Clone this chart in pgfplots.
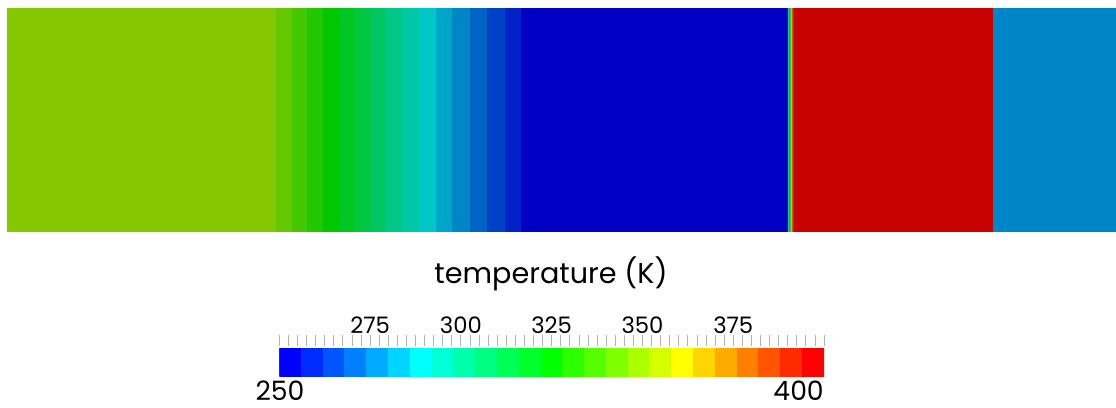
\documentclass[border=0pt]{standalone}
\usepackage{pgfplots}
\pgfplotsset{compat=1.18}
\usepackage{fontspec}
\setmainfont{Poppins}

% 25-band rainbow (bright) used by the colour bar
\pgfplotsset{
  colormap={jetbright}{
    rgb255=(0,0,255) rgb255=(0,43,255) rgb255=(0,85,255) rgb255=(0,128,255)
    rgb255=(0,170,255) rgb255=(0,213,255) rgb255=(0,255,255) rgb255=(0,255,213)
    rgb255=(0,255,170) rgb255=(0,255,128) rgb255=(0,255,85) rgb255=(0,255,43)
    rgb255=(0,255,0) rgb255=(43,255,0) rgb255=(85,255,0) rgb255=(128,255,0)
    rgb255=(170,255,0) rgb255=(213,255,0) rgb255=(255,255,0) rgb255=(255,213,0)
    rgb255=(255,170,0) rgb255=(255,128,0) rgb255=(255,85,0) rgb255=(255,43,0)
    rgb255=(255,0,0)},
  % same map as rendered (shaded) in the field
  colormap={jetdark}{
    rgb255=(0,0,199) rgb255=(0,34,199) rgb255=(0,66,199) rgb255=(0,100,199)
    rgb255=(0,133,199) rgb255=(0,166,199) rgb255=(0,199,199) rgb255=(0,199,166)
    rgb255=(0,199,133) rgb255=(0,199,100) rgb255=(0,199,66) rgb255=(0,199,34)
    rgb255=(0,199,0) rgb255=(34,199,0) rgb255=(66,199,0) rgb255=(100,199,0)
    rgb255=(133,199,0) rgb255=(166,199,0) rgb255=(199,199,0) rgb255=(199,166,0)
    rgb255=(199,133,0) rgb255=(199,100,0) rgb255=(199,66,0) rgb255=(199,34,0)
    rgb255=(199,0,0)},
}

\pgfplotstableread{
x      y  T
0      0  349
269    0  343
285.3  0  337
300.7  0  331
316.3  0  325
332.3  0  319
348    0  313
364    0  307
379.7  0  301
396.3  0  295
412.3  0  289
429    0  283
445.7  0  277
463    0  271
480.3  0  265
498    0  259
514.7  0  253
781.5  0  289
782.5  0  313
783.5  0  337
784.5  0  361
785.5  0  379
786.5  0  391
787.5  0  397
986    0  277
1109   0  277
0      1  349
269    1  343
285.3  1  337
300.7  1  331
316.3  1  325
332.3  1  319
348    1  313
364    1  307
379.7  1  301
396.3  1  295
412.3  1  289
429    1  283
445.7  1  277
463    1  271
480.3  1  265
498    1  259
514.7  1  253
781.5  1  289
782.5  1  313
783.5  1  337
784.5  1  361
785.5  1  379
786.5  1  391
787.5  1  397
986    1  277
1109   1  277
}\fieldtable

\pgfplotstableread{
x    y  T
250  0  253
256  0  259
262  0  265
268  0  271
274  0  277
280  0  283
286  0  289
292  0  295
298  0  301
304  0  307
310  0  313
316  0  319
322  0  325
328  0  331
334  0  337
340  0  343
346  0  349
352  0  355
358  0  361
364  0  367
370  0  373
376  0  379
382  0  385
388  0  391
394  0  397
400  0  397
250  1  253
256  1  259
262  1  265
268  1  271
274  1  277
280  1  283
286  1  289
292  1  295
298  1  301
304  1  307
310  1  313
316  1  319
322  1  325
328  1  331
334  1  337
340  1  343
346  1  349
352  1  355
358  1  361
364  1  367
370  1  373
376  1  379
382  1  385
388  1  391
394  1  397
400  1  397
}\bartable

\begin{document}
\begin{tikzpicture}[x=1pt,y=1pt]
\useasboundingbox (0,0) rectangle (837,-305.25);

% ---- temperature field ----
\begin{axis}[
  at={(5.25pt,-6pt)}, anchor=north west,
  scale only axis, width=831.75pt, height=167.25pt,
  xmin=0, xmax=1109, ymin=0, ymax=1, enlargelimits=false,
  ticks=none, axis line style={draw=black!12, line width=0.6pt},
  colormap name=jetdark, colormap access=piecewise constant,
  point meta min=250, point meta max=400,
]
\addplot[surf, shader=flat corner, mesh/rows=2, point meta=\thisrow{T}]
  table[x=x, y=y] {\fieldtable};
\end{axis}

% ---- colour bar ----
\begin{axis}[
  at={(209.5pt,-282pt)}, anchor=south west,
  scale only axis, width=408.5pt, height=30.75pt,
  xmin=250, xmax=400, ymin=0, ymax=1.4643, enlargelimits=false,
  axis x line*=top, axis y line=none,
  axis line style={draw=none},
  xtick={275,300,325,350,375},
  minor xtick={250,252.5,...,400},
  xtick align=inside,
  minor tick length=8.25pt, major tick length=10.5pt,
  major tick style={draw=black, opacity=0.4, line width=0.8pt, yshift=-9.75pt},
  minor tick style={draw=black!30, line width=0.6pt},
  /pgf/number format/assume math mode=true,
  xticklabel style={font=\fontsize{17}{19}\selectfont, inner sep=0pt, yshift=1pt},
  colormap name=jetbright, colormap access=piecewise constant,
  point meta min=250, point meta max=400,
]
\addplot[surf, shader=flat corner, mesh/rows=2, point meta=\thisrow{T}]
  table[x=x, y=y] {\bartable};
\end{axis}

\node[anchor=base, inner sep=0pt, font=\fontsize{21.5}{24}\selectfont] at (413.25,-212.25) {temperature (K)};
\node[anchor=base, inner sep=0pt, font=\fontsize{20}{24}\selectfont] at (210,-300) {250};
\node[anchor=base east, inner sep=0pt, font=\fontsize{20}{24}\selectfont] at (618,-300) {400};
\end{tikzpicture}
\end{document}
